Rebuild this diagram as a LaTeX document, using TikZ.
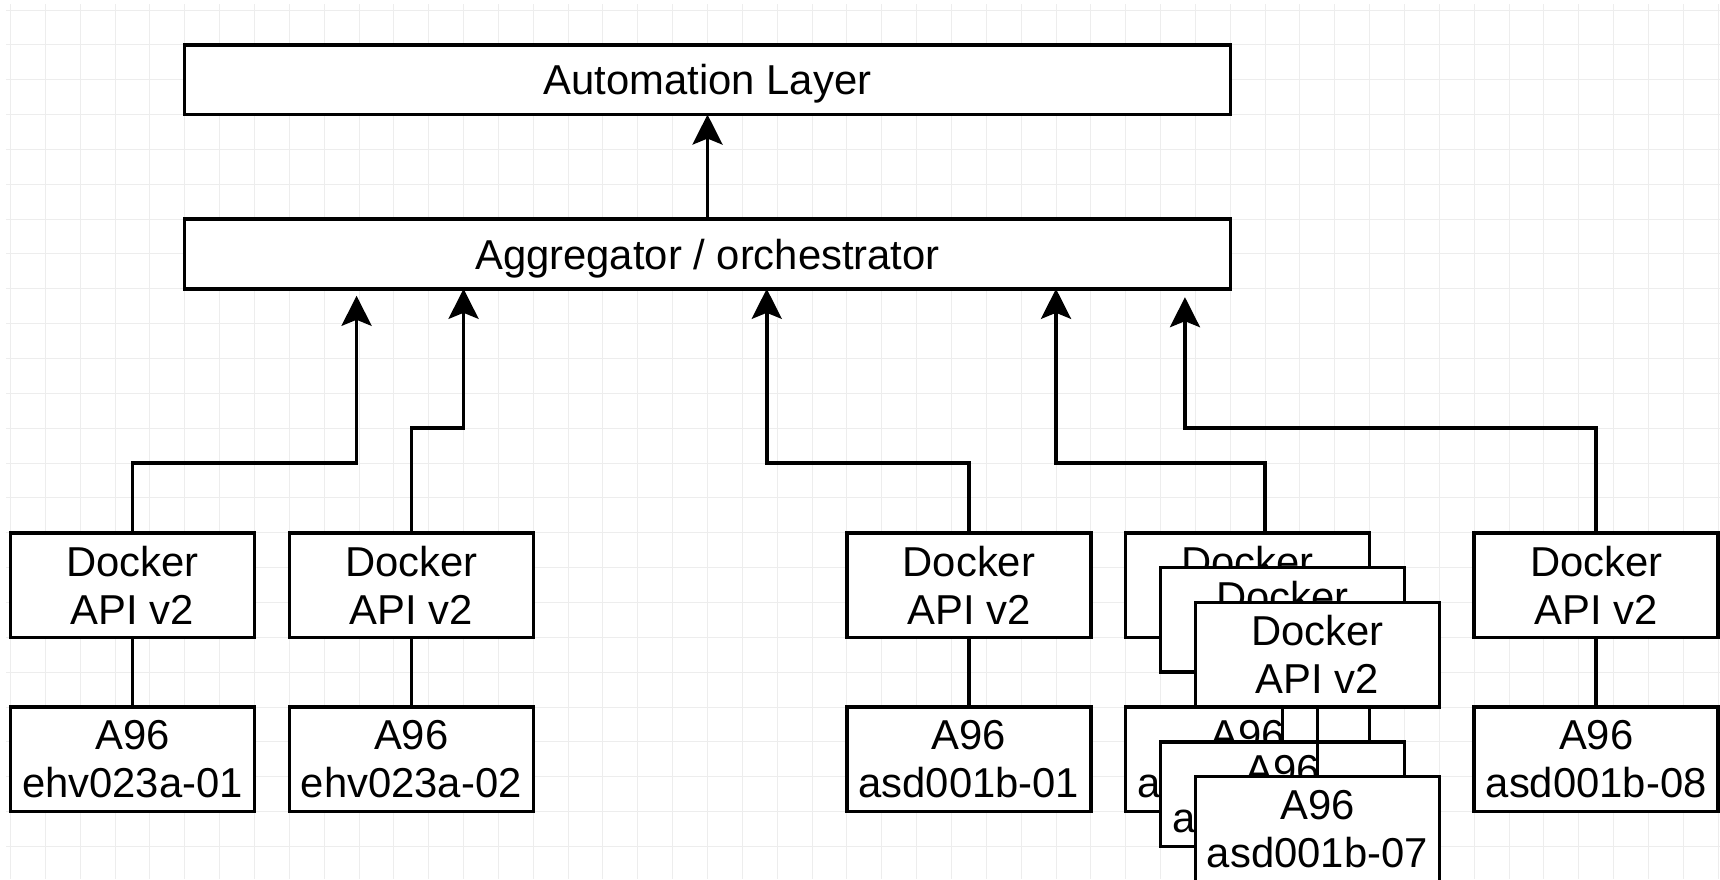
\documentclass[tikz,border=0pt]{standalone}
\usepackage{fontspec}
\setmainfont{Liberation Sans}
\usetikzlibrary{arrows.meta}
\begin{document}
\begin{tikzpicture}[x=1.7425pt,y=-1.7425pt,
	gridline/.style={black!7,line width=0.5pt},
	box/.style={draw,fill=white,line width=1.7425pt,inner sep=0pt,outer sep=0pt,align=center,
		minimum width=121.975pt,minimum height=52.275pt,font=\fontsize{20.9}{24}\selectfont},
	wide/.style={box,minimum width=522.75pt,minimum height=34.85pt,text depth=0pt},
	link/.style={line width=1.7425pt},
	arr/.style={link,-{Stealth[length=15pt,width=15pt,inset=3pt]}}]
	\useasboundingbox (-3.013,-2.87) rectangle (490.53,249.36);
	\clip (-3.013,-2.87) rectangle (490.53,249.36);
	% background grid
	\foreach \gx in {0,10,...,490} \draw[gridline] (\gx,-1.7) -- (\gx,249.4);
	\foreach \gy in {0,10,...,240} \draw[gridline] (-1.3,\gy) -- (490.6,\gy);
	\node[wide] (auto) at (200,20) {Automation Layer};
	\node[wide] (agg) at (200,70) {Aggregator / orchestrator};
	\draw[arr] (agg) -- (auto);
	\node[box] (dk1) at (35,165) {Docker\\API v2};
	\node[box] (a1) at (35,215) {A96\\ehv023a-01};
	\draw[link] (dk1) -- (a1);
	\node[box] (dk2) at (115,165) {Docker\\API v2};
	\node[box] (a2) at (115,215) {A96\\ehv023a-02};
	\draw[link] (dk2) -- (a2);
	\node[box] (dk3) at (275,165) {Docker\\API v2};
	\node[box] (a3) at (275,215) {A96\\asd001b-01};
	\draw[link] (dk3) -- (a3);
	% stacked hosts
	\node[box] (dkb) at (355,165) {Docker\\API v2};
	\node[box] (ab) at (355,215) {A96\\asd001b-05};
	\draw[link] (dkb) -- (ab);
	\node[box] (dkm) at (365,175) {Docker\\API v2};
	\node[box] (am) at (365,225) {A96\\asd001b-06};
	\draw[link] (dkm) -- (am);
	\node[box] (dkf) at (375,185) {Docker\\API v2};
	\node[box] (af) at (375,235) {A96\\asd001b-07};
	\draw[link] (dkf) -- (af);
	\node[box] (dk5) at (455,165) {Docker\\API v2};
	\node[box] (a5) at (455,215) {A96\\asd001b-08};
	\draw[link] (dk5) -- (a5);
	% up to the aggregator
	\coordinate (t1) at (99.3,82);
	\coordinate (t5) at (337,82.4);
	\draw[arr] (dk1.north) |- (t1 |- 0,130) -- (t1);
	\draw[arr] (dk2.north) |- (130,120) -- (agg.south -| 130,0);
	\draw[arr] (dk3.north) |- (217,130) -- (agg.south -| 217,0);
	\draw[arr] (dkb.north -| 360,0) |- (300,130) -- (agg.south -| 300,0);
	\draw[arr] (dk5.north) |- (t5 |- 0,120) -- (t5);
\end{tikzpicture}
\end{document}
